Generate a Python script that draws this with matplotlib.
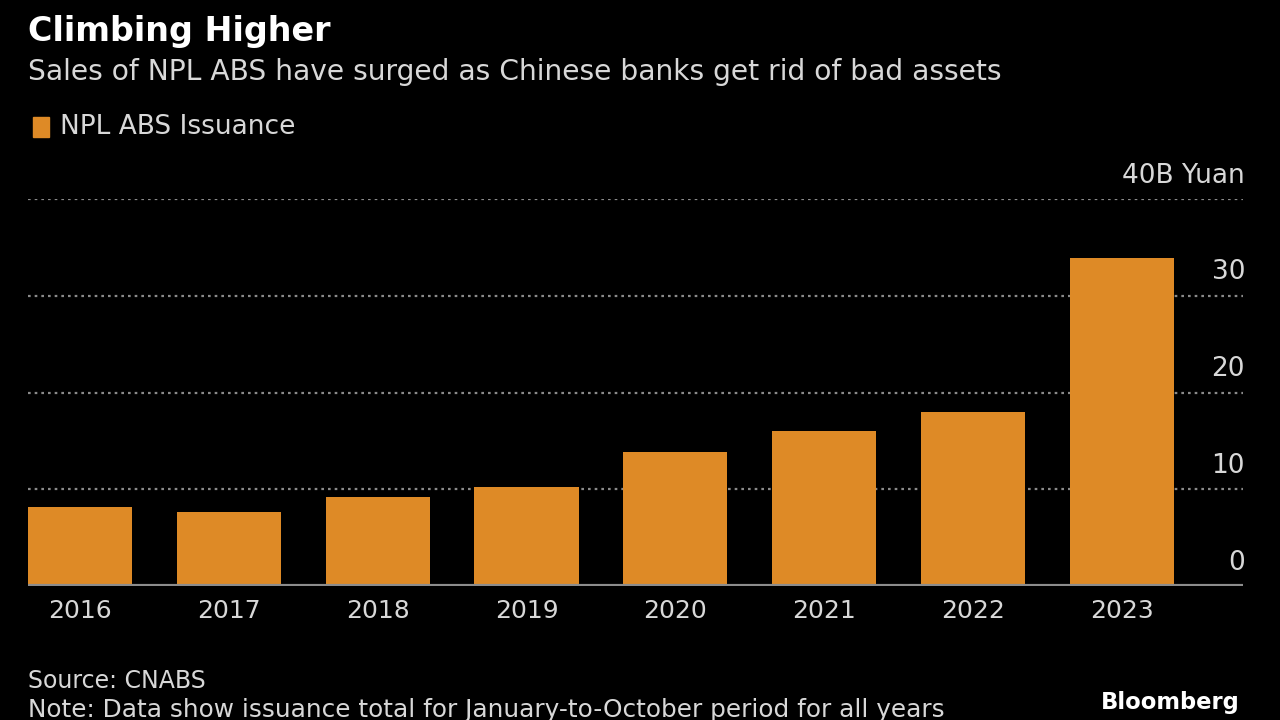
import matplotlib
matplotlib.use("Agg")
import matplotlib.pyplot as plt
from matplotlib.transforms import blended_transform_factory, offset_copy

years = ["2016", "2017", "2018", "2019", "2020", "2021", "2022", "2023"]
issuance = [8.2, 7.7, 9.2, 10.2, 13.9, 16.0, 18.0, 33.9]
yticks = [0, 10, 20, 30, 40]
ytick_labels = ["0", "10", "20", "30", "40B Yuan"]

BG = "#000000"
BAR = "#DE8A26"
TXT = "#D8D8D8"
GRID = "#8A8A8A"

plt.rcParams['font.family'] = ['DejaVu Sans']

fig = plt.figure(figsize=(12.8, 7.2), dpi=100, facecolor=BG)
ax = fig.add_axes([28/1280, 1-586/720, (1243-28)/1280, (586-199)/720], facecolor=BG)

x = list(range(len(years)))
ax.bar(x, issuance, width=0.7, color=BAR, zorder=3)
ax.set_xlim(-0.35, 7.815)
ax.set_ylim(0, 40)

for t in yticks[1:]:
    ax.axhline(t, color=GRID, lw=1.6, ls=(0, (1.2, 1.8)), zorder=1)
ax.axhline(0, color="#8C8C8C", lw=3, zorder=4)

for s in ax.spines.values():
    s.set_visible(False)
ax.set_yticks([])
ax.set_xticks(x)
ax.set_xticklabels(years, color=TXT, fontsize=18)
ax.tick_params(axis='x', length=0, pad=9)

trans = blended_transform_factory(ax.transAxes, ax.transData)
trans = offset_copy(trans, fig=fig, x=1.5, y=7.5, units='points')
for t, lab in zip(yticks, ytick_labels):
    ax.text(1.0, t, lab, transform=trans, ha='right', va='bottom',
            color=TXT, fontsize=19)

fig.text(28/1280, 1-32/720, "Climbing Higher", color="white", fontsize=24,
         fontweight='bold', va='center', ha='left')
fig.text(28/1280, 1-72/720, "Sales of NPL ABS have surged as Chinese banks get rid of bad assets",
         color=TXT, fontsize=20.25, va='center', ha='left')

# legend
fig.patches.append(plt.Rectangle((33/1280, 1-137/720), 16/1280, 20/720,
                                 transform=fig.transFigure, color=BAR))
fig.text(60/1280, 1-127/720, "NPL ABS Issuance", color=TXT, fontsize=19,
         va='center', ha='left')

fig.text(28/1280, 1-681/720, "Source: CNABS", color=TXT, fontsize=17,
         va='center', ha='left')
fig.text(28/1280, 1-710/720, "Note: Data show issuance total for January-to-October period for all years",
         color=TXT, fontsize=17.8, va='center', ha='left')
fig.text(1240/1280, 1-703/720, "Bloomberg", color="white", fontsize=16.3,
         fontweight='bold', va='center', ha='right')

fig.savefig("out.png", dpi=100, facecolor=BG)
